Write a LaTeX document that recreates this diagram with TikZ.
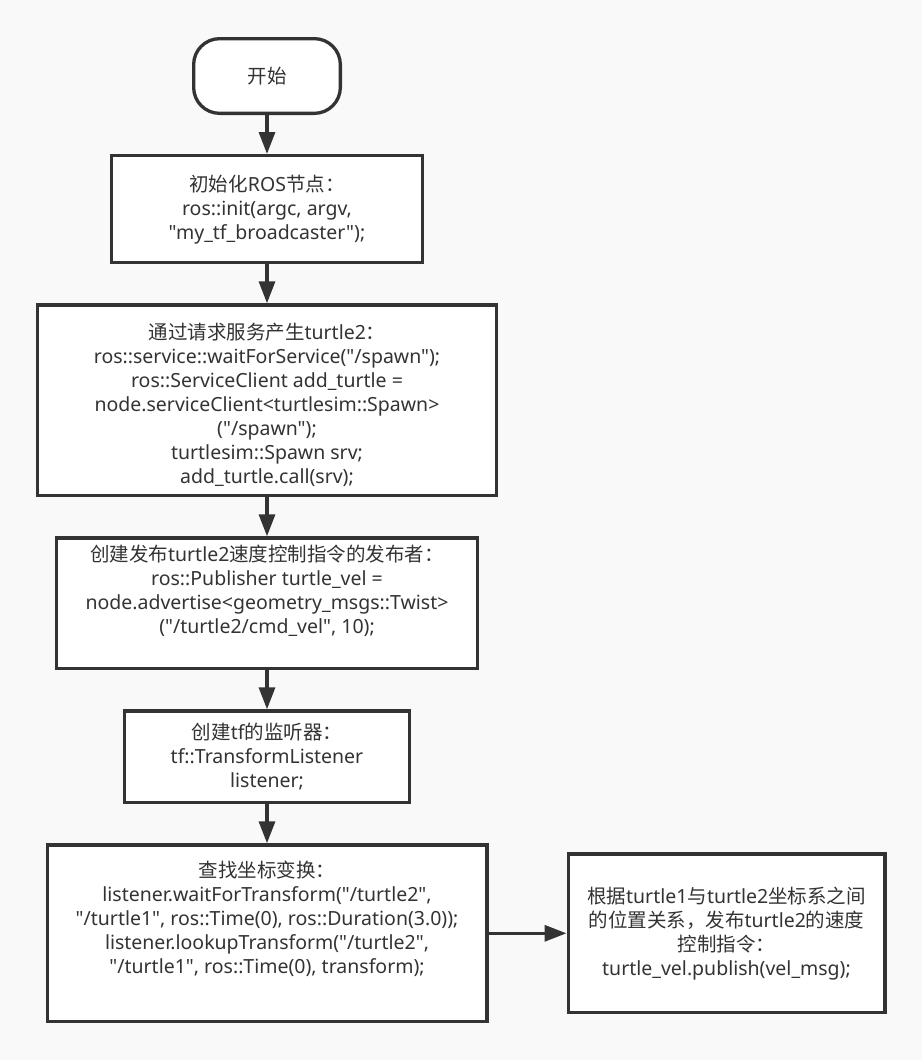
\documentclass[tikz,border=0pt]{standalone}
\usepackage{fontspec}
\usepackage{xcolor}
\setmainfont{Noto Sans}[Ligatures=TeXOff]
\newfontfamily\cjk{Noto Sans CJK SC}[Scale=1.0]
\newcommand{\zh}[1]{{\cjk #1}}
\newcommand{\padbelow}[1]{\rule[-#1]{0pt}{#1}}
\newcommand{\padabove}[1]{\rule{0pt}{#1}}
\usetikzlibrary{positioning, arrows.meta}
\usetikzlibrary{shapes}
\definecolor{edgegray}{HTML}{333333}
\definecolor{pagegray}{HTML}{F9F9F9}

\begin{document}
\begin{tikzpicture}[
            x=1pt, y=-1pt,
            node distance=39pt,
            every node/.style={font=\fontsize{19.5}{24}\selectfont, text=edgegray},
            stepbox/.style={rectangle, draw=edgegray, fill=white, line width=3.3pt, align=center, inner sep=2pt},
            startbox/.style={stepbox, rounded corners=26pt},
            flowline/.style={draw=edgegray, line width=3.3pt, -{Triangle[length=22pt, width=16pt]}},
        ]
            \fill[pagegray] (0,0) rectangle (922,1060);
            \node[startbox, minimum width=146.7pt, minimum height=74.7pt] (start) at (267,76) {\zh{开始}};
            \node[stepbox, minimum width=310.7pt, minimum height=107pt, below=of start] (init) {
                \zh{初始化}ROS\zh{节点：}\\
                ros::init(argc, argv,\\
                "my\_tf\_broadcaster");
            };
            \node[stepbox, minimum width=458.7pt, minimum height=190.7pt, below=of init] (spawn) {
                \padabove{26pt}\zh{通过请求服务产生}turtle2\zh{：}\\
                ros::service::waitForService("/spawn");\\
                ros::ServiceClient add\_turtle =\\
                node.serviceClient<turtlesim::Spawn>\\
                ("/spawn");\\
                turtlesim::Spawn srv;\\
                add\_turtle.call(srv);
            };
            \node[stepbox, minimum width=420.7pt, minimum height=130.7pt, below=of spawn] (pub) {
                \zh{创建发布}turtle2\zh{速度控制指令的发布者：}\\
                ros::Publisher turtle\_vel =\\
                node.advertise<geometry\_msgs::Twist>\\
                ("/turtle2/cmd\_vel", 10);\padbelow{28pt}
            };
            \node[stepbox, minimum width=284.7pt, minimum height=91.7pt, below=of pub] (listen) {
                \zh{创建}tf\zh{的监听器：}\\
                tf::TransformListener\\
                listener;
            };
            \node[stepbox, minimum width=439.7pt, minimum height=176.7pt, below=of listen] (lookup) {
                \zh{查找坐标变换：}\\
                listener.waitForTransform("/turtle2",\\
                "/turtle1", ros::Time(0), ros::Duration(3.0));\\
                listener.lookupTransform("/turtle2",\\
                "/turtle1", ros::Time(0), transform);\padbelow{32pt}
            };
            \node[stepbox, minimum width=316.7pt, minimum height=158.7pt, right=78pt of lookup] (control) {
                \zh{根据}turtle1\zh{与}turtle2\zh{坐标系之间}\\
                \zh{的位置关系，发布}turtle2\zh{的速度}\\
                \zh{控制指令：}\\
                turtle\_vel.publish(vel\_msg);
            };
            \draw[flowline] (start) -- (init);
            \draw[flowline] (init) -- (spawn);
            \draw[flowline] (spawn) -- (pub);
            \draw[flowline] (pub) -- (listen);
            \draw[flowline] (listen) -- (lookup);
            \draw[flowline] (lookup) -- (control);
        \end{tikzpicture}
\end{document}
